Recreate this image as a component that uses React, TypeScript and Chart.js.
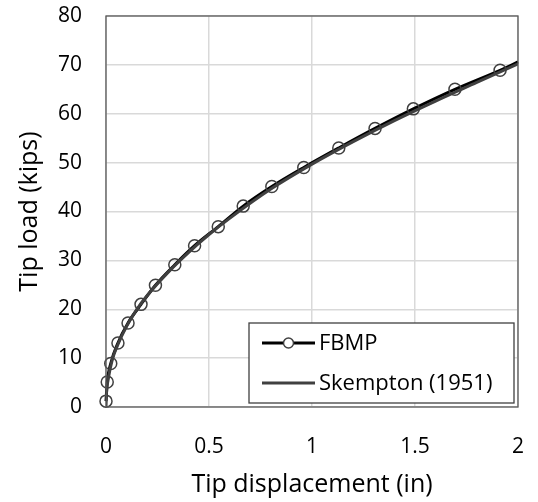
import React, { useEffect, useRef } from "react";
import { Chart, registerables } from "chart.js";

Chart.register(...registerables);

// FBMP marker points (displacement in, load kips)
const fbmpX = [0, 0.006, 0.023, 0.058, 0.107, 0.17, 0.24, 0.334, 0.43, 0.545, 0.666, 0.805, 0.96, 1.13, 1.306, 1.492, 1.694, 1.913, 2.0];
const fbmpY = [1.2, 5.1, 8.9, 13.1, 17.2, 21.0, 24.9, 29.1, 33.0, 36.9, 41.1, 45.1, 49.0, 53.0, 57.0, 61.0, 65.0, 68.9, 70.6];
const fbmpMarker = [true, true, true, true, true, true, true, true, true, true, true, true, true, true, true, true, true, true, false];

// Skempton (1951) curve
const skemX = [0, 0.002, 0.01, 0.03, 0.06, 0.1, 0.15, 0.2, 0.3, 0.4, 0.5, 0.6, 0.8, 1.0, 1.2, 1.4, 1.6, 1.8, 2.0];
const skemY = [0, 2.6, 5.5, 9.6, 13.0, 16.5, 20.0, 22.8, 27.5, 31.6, 35.3, 38.6, 44.6, 49.7, 54.3, 58.6, 62.6, 66.4, 70.2];

const xTicks = [0, 0.5, 1, 1.5, 2];
const xTickLabels = ["0", "0.5", "1", "1.5", "2"];
const yTicks = [0, 10, 20, 30, 40, 50, 60, 70, 80];

const seriesNames = ["FBMP", "Skempton (1951)"];
const axisTitles = { x: "Tip displacement (in)", y: "Tip load (kips)" };

const FONT = "'Open Sans', 'Noto Sans', sans-serif";

const frameAndLegend = {
  id: "frameAndLegend",
  afterDatasetsDraw(chart: any) {
    const { ctx, chartArea } = chart;
    const { left, right, top, bottom } = chartArea;
    ctx.save();
    ctx.strokeStyle = "#595959";
    ctx.lineWidth = 1.3;
    ctx.strokeRect(left, top, right - left, bottom - top);

    // legend
    const w = 265;
    const h = 80;
    const lx = right - 4 - w;
    const ly = bottom - 4 - h;
    ctx.fillStyle = "#ffffff";
    ctx.fillRect(lx, ly, w, h);
    ctx.strokeStyle = "#404040";
    ctx.lineWidth = 1.3;
    ctx.strokeRect(lx, ly, w, h);

    const rows = [ly + 20, ly + 60];
    const sx0 = lx + 13;
    const sx1 = lx + 66;
    // FBMP sample
    ctx.strokeStyle = "#000000";
    ctx.lineWidth = 2.8;
    ctx.beginPath();
    ctx.moveTo(sx0, rows[0]);
    ctx.lineTo(sx1, rows[0]);
    ctx.stroke();
    ctx.beginPath();
    ctx.arc((sx0 + sx1) / 2, rows[0], 5, 0, Math.PI * 2);
    ctx.fillStyle = "#ffffff";
    ctx.fill();
    ctx.strokeStyle = "#404040";
    ctx.lineWidth = 1.5;
    ctx.stroke();
    // Skempton sample
    ctx.strokeStyle = "#404040";
    ctx.lineWidth = 2.8;
    ctx.beginPath();
    ctx.moveTo(sx0, rows[1]);
    ctx.lineTo(sx1, rows[1]);
    ctx.stroke();

    ctx.fillStyle = "#000000";
    ctx.font = `22px ${FONT}`;
    ctx.textBaseline = "middle";
    ctx.textAlign = "left";
    ctx.fillText(seriesNames[0], lx + 70, rows[0] + 1);
    ctx.fillText(seriesNames[1], lx + 70, rows[1] + 1);
    ctx.restore();
  },
};

export default function App() {
  const ref = useRef<HTMLCanvasElement | null>(null);

  useEffect(() => {
    if (!ref.current) return;
    const chart = new Chart(ref.current, {
      type: "line",
      data: {
        datasets: [
          {
            label: seriesNames[1],
            data: skemX.map((x, i) => ({ x, y: skemY[i] })),
            borderColor: "#404040",
            borderWidth: 3,
            pointRadius: 0,
            cubicInterpolationMode: "monotone",
            fill: false,
            order: 0,
          },
          {
            label: seriesNames[0],
            data: fbmpX.map((x, i) => ({ x, y: fbmpY[i] })),
            borderColor: "#000000",
            borderWidth: 3,
            pointRadius: fbmpMarker.map((m) => (m ? 6 : 0)),
            pointBorderColor: "#404040",
            pointBackgroundColor: "rgba(255,255,255,0)",
            pointBorderWidth: 1.5,
            cubicInterpolationMode: "monotone",
            fill: false,
            clip: false as any,
            order: 1,
          },
        ],
      },
      options: {
        animation: false,
        responsive: false,
        maintainAspectRatio: false,
        layout: { padding: { top: 16, right: 20, left: 12, bottom: 0 } },
        plugins: {
          legend: { display: false },
          tooltip: { enabled: false },
        },
        scales: {
          x: {
            type: "linear",
            min: 0,
            max: 2,
            afterBuildTicks: (scale: any) => {
              scale.ticks = xTicks.map((v) => ({ value: v }));
            },
            afterFit: (scale: any) => {
              scale.height = 95;
              scale.paddingLeft = 0;
              scale.paddingRight = 0;
            },
            ticks: {
              color: "#000000",
              font: { family: FONT, size: 21 },
              padding: 27,
              maxRotation: 0,
              callback: (_v: any, i: number) => xTickLabels[i],
            },
            grid: { color: "#d9d9d9", lineWidth: 1.5, drawTicks: false },
            border: { display: false },
            title: {
              display: true,
              text: axisTitles.x,
              color: "#000000",
              font: { family: FONT, size: 25 },
              padding: { top: 4, bottom: 2 },
            },
          },
          y: {
            type: "linear",
            min: 0,
            max: 80,
            afterBuildTicks: (scale: any) => {
              scale.ticks = yTicks.map((v) => ({ value: v }));
            },
            afterFit: (scale: any) => {
              scale.width = 94;
              scale.paddingTop = 0;
              scale.paddingBottom = 0;
            },
            ticks: {
              color: "#000000",
              font: { family: FONT, size: 21 },
              padding: 24,
            },
            grid: { color: "#d9d9d9", lineWidth: 1.5, drawTicks: false },
            border: { display: false },
            title: {
              display: true,
              text: axisTitles.y,
              color: "#000000",
              font: { family: FONT, size: 25 },
              padding: { top: 3, bottom: 4 },
            },
          },
        },
      },
      plugins: [frameAndLegend],
    });
    return () => chart.destroy();
  }, []);

  return (
    <div style={{ position: "fixed", left: 0, top: 0, width: 538, height: 502, background: "#fff" }}>
      <canvas ref={ref} width={538} height={502} style={{ width: 538, height: 502 }} />
    </div>
  );
}
